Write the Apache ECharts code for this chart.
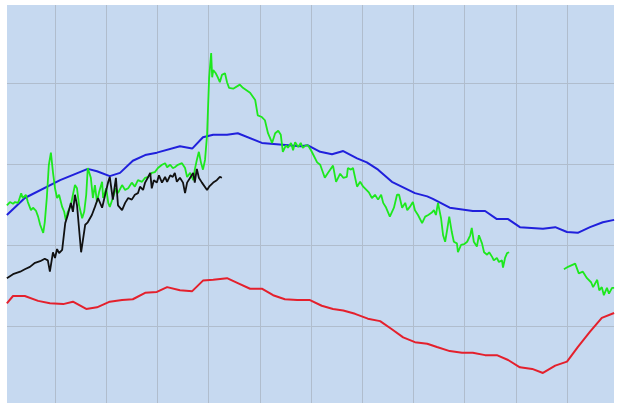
<!DOCTYPE html>
<html>
<head>
<meta charset="utf-8">
<script src="https://cdn.jsdelivr.net/npm/echarts@6/dist/echarts.min.js"></script>
<style>
html,body{margin:0;padding:0;background:#ffffff;}
#chart{width:617px;height:403px;}
</style>
</head>
<body>
<div id="chart"></div>
<script>
// x: position along the horizontal scale (grid lines every 10), y: value (grid lines every 10)
var blueData = [
  [-9.4,13.7],[-5.9,15.8],[1.0,18.0],[6.4,19.4],[8.2,19.1],[10.7,18.5],[12.7,18.9],[15.2,20.4],
  [17.6,21.1],[19.9,21.4],[24.4,22.2],[26.8,21.9],[28.9,23.3],[30.9,23.6],[33.6,23.6],[35.7,23.8],
  [40.4,22.6],[47.9,22.2],[49.4,22.3],[51.8,21.5],[54.1,21.2],[56.3,21.6],[59.0,20.7],[60.9,20.2],
  [63.1,19.3],[65.8,17.8],[70.3,16.4],[72.7,16.0],[73.8,15.7],[77.1,14.6],[81.6,14.2],[84.0,14.2],
  [86.3,13.2],[88.5,13.2],[90.8,12.2],[95.3,12.0],[97.7,12.2],[100.0,11.6],[102.1,11.5],[104.5,12.2],
  [107.0,12.8],[109.2,13.1]
];
var redData = [
  [-9.4,2.8],[-8.2,3.7],[-5.9,3.7],[-3.3,3.1],[-1.0,2.8],[1.6,2.7],[3.5,3.0],[6.1,2.1],[8.2,2.3],
  [10.7,3.0],[13.1,3.2],[15.2,3.3],[17.6,4.1],[19.9,4.2],[21.9,4.8],[24.4,4.4],[26.8,4.3],[28.9,5.6],
  [30.9,5.7],[33.6,5.9],[35.7,5.3],[38.1,4.6],[40.4,4.6],[42.6,3.8],[44.9,3.3],[47.3,3.2],[49.8,3.2],
  [52.1,2.5],[54.3,2.1],[56.3,1.9],[58.6,1.5],[61.1,0.9],[63.5,0.6],[65.8,-0.4],[68.0,-1.4],[70.3,-2.0],
  [72.7,-2.2],[74.6,-2.6],[77.1,-3.1],[79.5,-3.3],[81.6,-3.3],[84.0,-3.6],[86.3,-3.6],[88.5,-4.2],
  [90.8,-5.1],[93.2,-5.3],[95.3,-5.8],[97.7,-4.9],[100.0,-4.4],[102.1,-2.6],[104.5,-0.7],[106.8,1.0],
  [109.2,1.6]
];
var blackData = [
  [-9.4,5.9],[-8.2,6.4],[-6.8,6.7],[-5.9,7.0],[-4.9,7.3],[-3.9,7.8],[-2.9,8.0],[-2.0,8.3],[-1.4,8.1],
  [-1.0,6.7],[-0.4,9.1],[0,8.4],[0.4,9.5],[0.8,9.0],[1.4,9.4],[2.0,12.7],[2.5,13.7],[3.1,15.2],
  [3.5,14.1],[3.9,16.2],[4.3,14.9],[5.1,9.1],[5.9,12.5],[6.4,12.8],[7.2,13.7],[7.8,14.7],[8.4,15.8],
  [9.2,14.6],[9.8,16.2],[10.4,17.8],[10.7,18.4],[11.3,15.6],[11.9,18.3],[12.3,14.9],[13.1,14.3],
  [13.7,15.2],[14.3,15.8],[15.0,15.6],[15.6,16.2],[16.2,16.4],[16.6,17.2],[17.2,16.8],[17.6,17.7],
  [18.2,18.4],[18.6,18.9],[18.9,17.0],[19.3,18.0],[19.9,17.7],[20.3,18.6],[20.9,17.7],[21.5,18.4],
  [21.9,17.8],[22.5,18.6],[23.0,18.4],[23.4,18.9],[23.8,17.8],[24.4,18.3],[25.0,17.7],[25.4,16.4],
  [25.8,17.7],[26.4,18.3],[27.0,18.9],[27.3,17.7],[27.7,19.4],[28.1,18.3],[28.7,17.7],[28.9,17.8],
  [29.7,16.8],[30.1,17.2],[30.9,17.7],[31.6,18.0],[32.2,18.4],[32.6,18.3]
];
var greenData = [
  [-9.4,14.9],[-8.8,15.3],[-8.2,15.1],[-7.8,15.3],[-7.2,15.2],[-6.6,16.4],[-6.3,15.8],[-5.7,16.2],
  [-5.3,15.3],[-4.7,14.3],[-4.3,14.6],[-3.7,14.2],[-3.3,13.5],[-2.9,12.5],[-2.3,11.5],[-2.0,12.8],
  [-1.6,15.8],[-1.2,19.9],[-0.8,21.4],[-0.4,19.0],[0,17.0],[0.4,15.8],[0.8,16.2],[1.4,14.7],
  [1.8,14.1],[2.1,13.1],[2.5,14.1],[3.1,14.9],[3.5,16.2],[3.9,17.4],[4.3,17.0],[4.7,14.9],
  [5.3,13.3],[5.7,14.1],[6.1,16.2],[6.4,19.5],[7.0,18.3],[7.4,15.8],[7.8,17.4],[8.2,15.3],
  [8.6,16.5],[9.2,17.8],[9.4,15.8],[10.0,17.0],[10.4,15.2],[10.7,14.7],[11.3,15.8],[11.9,17.0],
  [12.3,16.4],[13.1,17.4],[13.7,16.8],[14.3,17.0],[15.0,17.7],[15.6,17.2],[16.2,18.0],[17.0,17.8],
  [17.6,18.3],[18.2,18.4],[18.9,18.9],[19.5,19.0],[20.1,19.5],[20.9,19.9],[21.5,20.1],[21.9,19.6],
  [22.5,19.9],[23.0,19.5],[23.4,19.6],[24.0,19.9],[24.8,20.1],[25.4,19.5],[25.8,18.4],[26.4,18.9],
  [27.0,18.0],[27.3,19.3],[27.7,20.5],[28.1,21.5],[28.5,20.2],[28.9,19.3],[29.3,20.5],[29.7,23.6],
  [30.1,30.6],[30.5,33.7],[30.7,30.7],[30.9,31.6],[31.4,31.2],[31.8,30.7],[32.2,30.1],[32.6,31.0],
  [33.2,31.2],[33.6,30.1],[34.0,29.4],[34.8,29.3],[36.1,29.8],[36.7,29.4],[38.1,28.8],[39.1,27.9],
  [39.6,26.0],[40.4,25.8],[41.0,25.4],[41.6,23.8],[42.4,22.6],[43.0,23.8],[43.6,24.1],[44.1,23.6],
  [44.5,21.5],[45.1,22.3],[45.5,22.0],[46.1,22.6],[46.5,21.7],[46.9,22.7],[47.5,22.1],[48.0,22.6],
  [48.4,22.0],[49.0,22.3],[49.4,22.3],[50.0,21.7],[50.4,21.2],[51.2,20.2],[51.8,19.9],[52.7,18.3],
  [53.3,18.9],[54.3,19.8],[54.9,17.8],[55.7,18.8],[56.3,18.3],[57.0,18.4],[57.2,19.5],[57.8,19.3],
  [58.2,19.5],[59.0,17.2],[59.6,17.8],[60.2,17.2],[60.5,17.4],[61.3,16.5],[61.9,15.8],[62.5,16.2],
  [63.1,15.6],[63.7,16.2],[64.1,15.2],[64.6,14.7],[65.4,13.5],[66.2,14.6],[66.8,16.2],[67.2,16.2],
  [67.8,14.6],[68.4,15.2],[68.8,14.3],[69.3,14.7],[69.9,15.3],[70.3,14.3],[70.9,13.7],[71.7,12.7],
  [72.3,13.5],[72.9,13.7],[73.6,14.0],[74.0,14.3],[74.4,13.7],[74.8,15.2],[75.4,13.3],[75.8,11.2],
  [76.2,10.4],[76.6,11.9],[77.0,13.5],[77.5,11.6],[77.9,10.4],[78.5,10.2],[78.7,9.1],[79.3,10.0],
  [79.9,10.1],[80.5,10.4],[81.1,11.2],[81.4,12.1],[81.8,10.4],[82.4,9.8],[82.8,11.2],[83.4,10.2],
  [83.8,9.1],[84.4,8.8],[84.8,9.1],[85.4,8.5],[85.7,8.1],[86.3,8.4],[86.7,7.9],[87.3,8.1],
  [87.5,7.2],[87.9,8.4],[88.3,9.0],[88.7,9.1],
  [94.0,null],
  [99.4,7.0],[100.2,7.3],[101.6,7.7],[102.3,6.5],[103.1,6.7],[103.9,5.9],[104.7,5.4],[105.1,4.8],
  [105.9,5.7],[106.3,4.4],[106.8,4.8],[107.2,3.8],[107.8,4.7],[108.2,4.0],[108.8,4.7],[109.2,4.7]
];

var X_MIN = -9.375, X_MAX = 109.18;
var Y_MIN = -9.51, Y_MAX = 39.63;

var chart = echarts.init(document.getElementById('chart'), null, {renderer: 'canvas'});
var splitStyle = {show: true, showMinLine: false, showMaxLine: false, lineStyle: {color: '#b0bdcd', width: 1}};
chart.setOption({
  animation: false,
  backgroundColor: '#ffffff',
  grid: {left: 7, top: 5, right: 3, bottom: 0, show: true, backgroundColor: '#c6d9f0', borderWidth: 0, containLabel: false},
  xAxis: {
    type: 'value', min: X_MIN, max: X_MAX, splitNumber: 12,
    axisLine: {show: false}, axisTick: {show: false}, axisLabel: {show: false},
    splitLine: splitStyle
  },
  yAxis: {
    type: 'value', min: Y_MIN, max: Y_MAX, splitNumber: 5,
    axisLine: {show: false}, axisTick: {show: false}, axisLabel: {show: false},
    splitLine: splitStyle
  },
  series: [
    {type: 'line', data: blueData, showSymbol: false, lineStyle: {color: '#2020dc', width: 2}, itemStyle: {color: '#2020dc'}},
    {type: 'line', data: redData, showSymbol: false, lineStyle: {color: '#e4202c', width: 2}, itemStyle: {color: '#e4202c'}},
    {type: 'line', data: greenData, showSymbol: false, connectNulls: false, lineStyle: {color: '#1de81d', width: 1.8}, itemStyle: {color: '#1de81d'}},
    {type: 'line', data: blackData, showSymbol: false, lineStyle: {color: '#111111', width: 1.8}, itemStyle: {color: '#111111'}}
  ]
});
</script>
</body>
</html>
